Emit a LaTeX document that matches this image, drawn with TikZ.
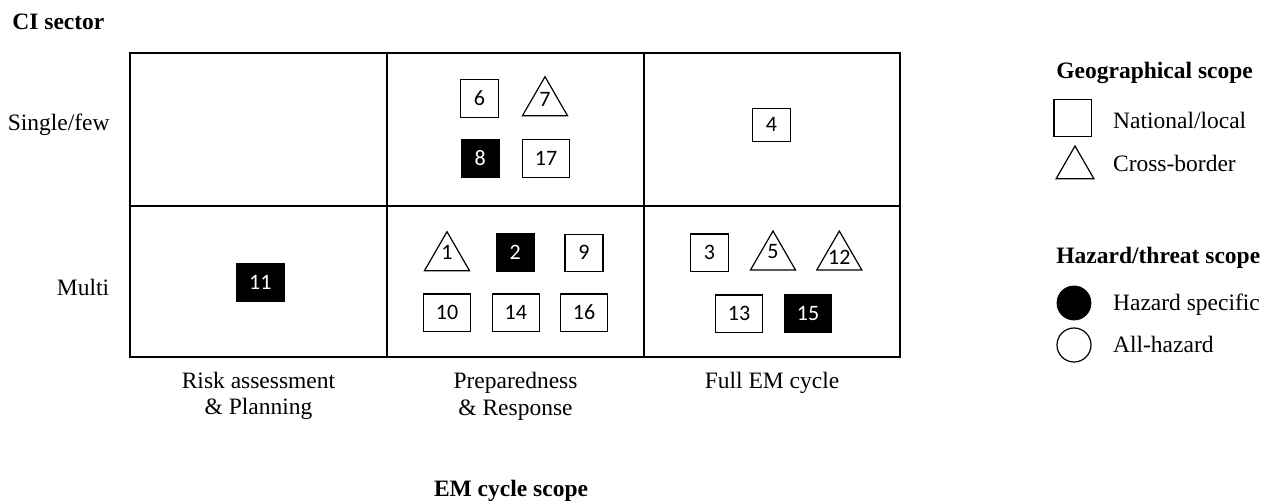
\documentclass[tikz,border=0pt]{standalone}
\usepackage{fontspec}
\setmainfont{Liberation Serif}
\newfontfamily\numfont{Carlito}
\usetikzlibrary{shapes.geometric}

\begin{document}
\begin{tikzpicture}[x=0.5pt,y=-0.5pt,
    every node/.style={black,inner sep=0pt,font=\fontsize{11.75}{13}\selectfont},
    num/.style={font=\numfont\fontsize{11}{13}\selectfont,text height=6.95pt,text depth=0pt},
    head/.style={font=\bfseries\fontsize{11.75}{13}\selectfont},
    box/.style={draw,line width=0.6pt,minimum width=19pt,minimum height=18.8pt,num},
    wbox/.style={box,minimum width=23.7pt},
    blk/.style={fill=black,text=white},
    tri/.style={regular polygon,regular polygon sides=3,draw,line width=0.6pt,minimum size=26pt}]
    \useasboundingbox (0,0) rectangle (1271,502);

    % grid
    \draw[line width=1pt] (130,53) rectangle (900,357);
    \draw[line width=1pt] (387,53) -- (387,357) (644,53) -- (644,357) (130,206) -- (900,206);

    \node[head,anchor=base west] (ci) at (12,30) {CI sector};
    \node[anchor=base east] (single) at (110,130.5) {Single/few};
    \node[anchor=base east] (multi) at (109.5,296) {Multi};

    % single/few
    \node[box] (n6) at (479.5,98.7) {6};
    \node[tri,label={[num,yshift=1.5pt]center:7}] (n7) at (545,102.7) {};
    \node[box,blk] (n8) at (480.3,158.8) {8};
    \node[wbox] (n17) at (546,158.7) {17};
    \node[box,minimum height=16.2pt] (n4) at (771.5,125) {4};

    % multi
    \node[wbox,blk] (n11) at (260.3,282.5) {11};
    \node[tri,label={[num,yshift=2.5pt]center:1}] (n1) at (447,257.7) {};
    \node[box,blk] (n2) at (515.3,252.7) {2};
    \node[box] (n9) at (584,253) {9};
    \node[wbox] (n10) at (447,312.8) {10};
    \node[wbox] (n14) at (515.8,312.8) {14};
    \node[wbox] (n16) at (584,312.8) {16};
    \node[box] (n3) at (709.5,252.8) {3};
    \node[tri,label={[num,yshift=2.5pt]center:5}] (n5) at (773,257) {};
    \node[tri,label={[num,yshift=-0.5pt]center:12}] (n12) at (839.3,257) {};
    \node[wbox] (n13) at (739,313.8) {13};
    \node[wbox,blk] (n15) at (808,313.8) {15};

    % columns
    \node[anchor=base] (risk) at (258.5,388.5) {Risk assessment};
    \node[anchor=base] (plan) at (258.5,415) {\& Planning};
    \node[anchor=base] (prep) at (515.5,389) {Preparedness};
    \node[anchor=base] (resp) at (515.5,416) {\& Response};
    \node[anchor=base] (full) at (772,389) {Full EM cycle};
    \node[head,anchor=base] (em) at (511,497) {EM cycle scope};

    % legend
    \node[head,anchor=base west] (geo) at (1056,79) {Geographical scope};
    \node[draw,line width=0.6pt,minimum size=18.8pt] (nat) at (1072.8,118) {};
    \node[anchor=base west] (natl) at (1112.7,128.3) {National/local};
    \node[tri,minimum size=21.9pt] (cross) at (1075,167.9) {};
    \node[anchor=base west] (crossl) at (1112.7,171.7) {Cross-border};
    \node[head,anchor=base west] (haz) at (1056,263.3) {Hazard/threat scope};
    \node[circle,draw,fill=black,minimum size=17pt] (spec) at (1074,303) {};
    \node[anchor=base west] (specl) at (1112.7,310.7) {Hazard specific};
    \node[circle,draw,line width=0.6pt,minimum size=17pt] (all) at (1074,345) {};
    \node[anchor=base west] (alll) at (1112.7,352.7) {All-hazard};
\end{tikzpicture}
\end{document}
